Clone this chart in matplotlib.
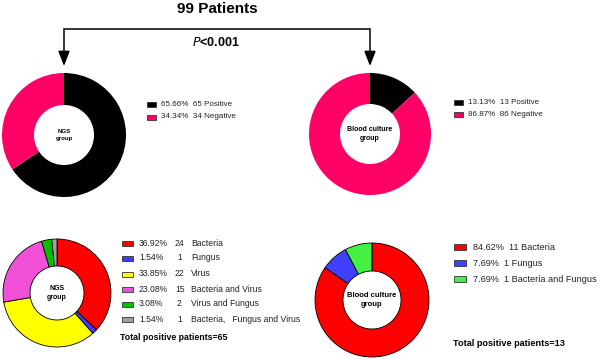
import matplotlib
matplotlib.use("Agg")
import matplotlib.pyplot as plt
from matplotlib.patches import Rectangle

plt.rcParams['font.family'] = ['Liberation Sans', 'DejaVu Sans']

# ---- data ----
top_labels = ["Positive", "Negative"]
ngs_top = [65, 34]
bc_top = [13, 86]
top_colors = ["#000000", "#FF0066"]

ngs_cats = ["Bacteria", "Fungus", "Virus", "Bacteria and Virus", "Virus and Fungus",
            "Bacteria,   Fungus and Virus"]
ngs_counts = [24, 1, 22, 15, 2, 1]
ngs_colors = ["#FF0000", "#3C3CFF", "#FFFF00", "#F050D8", "#00C000", "#A0A0A0"]

bc_cats = ["Bacteria", "Fungus", "Bacteria and Fungus"]
bc_counts = [11, 1, 1]
bc_colors = ["#FF0000", "#4040FF", "#44F044"]

W, H = 602, 359
fig = plt.figure(figsize=(W / 100, H / 100), dpi=100)
ax = fig.add_axes([0, 0, 1, 1])
ax.set_xlim(0, W)
ax.set_ylim(0, H)
ax.set_aspect('equal')
ax.axis('off')


def Y(y):
    return H - y


def donut(vals, colors, cx, cy, r, w, edge):
    ax.pie(vals, colors=colors, center=(cx, Y(cy)), radius=r, startangle=90,
           counterclock=False, frame=True,
           wedgeprops=dict(width=w, edgecolor=edge if edge else 'none', linewidth=0.6))


def pct(c, tot):
    return f"{c / tot * 100:.2f}%"


# ---- top donuts ----
donut(ngs_top, top_colors, 64, 135, 62, 32, None)
donut(bc_top, top_colors, 370, 134, 61, 31, None)
ax.text(64, Y(135), "NGS\ngroup", ha='center', va='center', fontsize=4.4,
        fontweight='bold', linespacing=1.3)
ax.text(370, Y(134), "Blood culture\ngroup", ha='center', va='center', fontsize=5,
        fontweight='bold', linespacing=1.3)

# ---- bottom donuts ----
donut(ngs_counts, ngs_colors, 57, 293, 54, 27, 'black')
donut(bc_counts, bc_colors, 372, 300, 57, 28, 'black')
ax.text(57, Y(293), "NGS\ngroup", ha='center', va='center', fontsize=5,
        fontweight='bold', linespacing=1.3)
ax.text(372, Y(300), "Blood culture\ngroup", ha='center', va='center', fontsize=5.5,
        fontweight='bold', linespacing=1.3)

ax.set_xlim(0, W)
ax.set_ylim(0, H)
ax.axis('off')

# ---- title and bracket ----
ax.text(217, Y(9), "99 Patients", ha='center', va='center', fontsize=11, fontweight='bold')
ax.text(216, Y(42), r"$\mathbf{\mathit{P}}$<0.001", ha='center', va='center',
        fontsize=9, fontweight='bold')
ax.plot([64, 64, 370, 370], [Y(58), Y(29), Y(29), Y(58)], color='black', lw=1.1,
        solid_joinstyle='miter')
for x in (64, 370):
    ax.annotate("", xy=(x, Y(66)), xytext=(x, Y(55)),
                arrowprops=dict(arrowstyle='-|>,head_length=0.9,head_width=0.35',
                                color='black', lw=1.1, shrinkA=0, shrinkB=0))

# ---- legends ----
def sq(x, y, w, h, c, edge=True):
    ax.add_patch(Rectangle((x, Y(y) - h / 2), w, h, facecolor=c,
                           edgecolor='#333333' if edge else c, lw=0.6))


# top-left legend
rows = [104, 117]
tot = sum(ngs_top)
for i, (lab, v, c) in enumerate(zip(top_labels, ngs_top, top_colors)):
    sq(147, rows[i], 9, 5, c)
    ax.text(161, Y(rows[i]), f"{pct(v, tot)}  {v} {lab}", va='center', fontsize=5.8,
            color='#222222')

# top-right legend
rows = [102, 114]
tot = sum(bc_top)
for i, (lab, v, c) in enumerate(zip(top_labels, bc_top, top_colors)):
    sq(454, rows[i], 9, 5, c)
    ax.text(468, Y(rows[i]), f"{pct(v, tot)}  {v} {lab}", va='center', fontsize=5.8,
            color='#222222')

# bottom-left legend
rows = [243, 258, 274, 289, 304, 319]
tot = sum(ngs_counts)
for i, (lab, v, c) in enumerate(zip(ngs_cats, ngs_counts, ngs_colors)):
    sq(122, rows[i], 11, 5, c)
    ax.text(139, Y(rows[i]), pct(v, tot), va='center', fontsize=6.2, color='#222222')
    ax.text(175 if v >= 10 else 177, Y(rows[i]), f"{v}", va='center', fontsize=6.2,
            color='#222222')
    ax.text(191, Y(rows[i]), lab, va='center', fontsize=6.2, color='#222222')
ax.text(120, Y(338), f"Total positive patients={tot}", va='center', fontsize=6.3,
        fontweight='bold')

# bottom-right legend
rows = [247, 263, 279]
tot = sum(bc_counts)
for i, (lab, v, c) in enumerate(zip(bc_cats, bc_counts, bc_colors)):
    sq(454, rows[i], 12, 6, c)
    ax.text(473, Y(rows[i]), f"{pct(v, tot)}  {v} {lab}", va='center', fontsize=6.6,
            color='#222222')
ax.text(453, Y(343), f"Total positive patients={tot}", va='center', fontsize=6.6,
        fontweight='bold')

fig.savefig("out.png", dpi=100)
